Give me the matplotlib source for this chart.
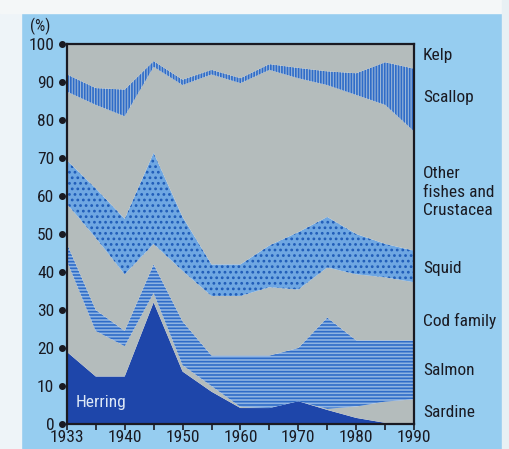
import numpy as np
import matplotlib
matplotlib.use("Agg")
import matplotlib.pyplot as plt
from matplotlib import font_manager
from matplotlib.patches import Rectangle
import matplotlib.transforms as mtransforms

years = [1933, 1935, 1940, 1945, 1950, 1955, 1960, 1965, 1970, 1975, 1980, 1985, 1990]
year_labels = ['1933', '', '1940', '', '1950', '', '1960', '', '1970', '', '1980', '', '1990']

# shares of catch (%), bottom to top
herring = [19.0, 12.5, 12.5, 32.0, 13.8, 8.5, 4.2, 4.2, 6.0, 3.7, 1.6, 0.3, 0.0]
sardine = [24.0, 12.0, 8.0, 2.5, 1.7, 1.5, 0.3, 0.0, 0.0, 0.3, 3.0, 5.6, 6.5]
salmon = [4.5, 5.5, 4.0, 7.5, 11.5, 8.0, 13.5, 13.8, 14.0, 24.0, 17.4, 16.1, 15.5]
cod = [10.5, 19.0, 14.9, 5.4, 13.3, 15.7, 15.7, 18.0, 15.4, 13.2, 17.4, 16.6, 15.3]
squid = [11.4, 13.0, 14.6, 24.0, 14.2, 8.3, 8.3, 11.0, 15.1, 13.3, 10.6, 8.8, 8.3]
other = [18.1, 22.0, 27.0, 22.6, 34.7, 50.0, 47.7, 46.2, 40.5, 34.7, 36.6, 36.6, 31.4]
scallop = [4.5, 4.4, 7.0, 1.5, 1.4, 1.2, 1.3, 1.5, 2.7, 3.6, 5.7, 11.2, 16.5]
kelp = [8.0, 11.6, 12.0, 4.5, 9.4, 6.8, 9.0, 5.3, 6.3, 7.2, 7.7, 4.8, 6.5]

names = ['Sardine', 'Salmon', 'Cod family', 'Squid',
         'Other\nfishes and\nCrustacea', 'Scallop', 'Kelp']
name_y = [3, 14, 27, 41, 61, 86, 97]

bg = '#96cdf0'
grey = '#b4bcbc'
dark = '#1e46aa'
mid = '#2f6cc8'
ink = '#1a1a22'

# pick a narrow font if one is around, else squeeze DejaVu a bit
avail = {f.name for f in font_manager.fontManager.ttflist}
narrow = None
for cand in ['Liberation Sans Narrow', 'Roboto Condensed', 'Open Sans Condensed',
             'Noto Sans Condensed', 'DejaVu Sans Condensed']:
    if cand in avail:
        narrow = cand
        break
if narrow:
    plt.rcParams['font.family'] = [narrow, 'DejaVu Sans']
    fs = 12.5
else:
    plt.rcParams['font.family'] = ['DejaVu Sans']
    plt.rcParams['font.stretch'] = 'condensed'
    fs = 10.5
plt.rcParams['hatch.linewidth'] = 1.2

fig = plt.figure(figsize=(5.10, 4.49), dpi=100, facecolor=bg)
fig.patches.append(Rectangle((0, 0), 0.042, 1, transform=fig.transFigure,
                             color='#eef4f8', zorder=0))
fig.patches.append(Rectangle((0, 0.972), 1, 0.03, transform=fig.transFigure,
                             color='#f4f7f8', zorder=0))
fig.patches.append(Rectangle((0.984, 0), 0.02, 1, transform=fig.transFigure,
                             color='#e8f0f4', zorder=0))

ax = fig.add_axes([0.131, 0.0557, 0.681, 0.8463])
x = np.arange(len(years))

polys = ax.stackplot(x, herring, sardine, salmon, cod, squid, other, scallop, kelp,
                     colors=[dark, grey, '#8fb4e2', grey, '#6fa7e2', grey, '#9ab6d8', grey],
                     linewidth=0)
polys[2].set_hatch('-----')
polys[2].set_edgecolor(mid)
polys[4].set_hatch('...')
polys[4].set_edgecolor('#1f5cb8')
polys[6].set_hatch('||||||')
polys[6].set_edgecolor(mid)

ax.set_xlim(0, len(years) - 1)
ax.set_ylim(0, 100)
for s in ax.spines.values():
    s.set_linewidth(1.6)
    s.set_color(ink)

ax.set_xticks(x)
ax.set_xticklabels(year_labels, fontsize=fs, color=ink)
ax.tick_params(axis='x', length=4, width=1.2, direction='out', pad=0, color=ink)

ax.set_yticks(np.arange(0, 101, 10))
ax.set_yticklabels([str(v) for v in range(0, 101, 10)], fontsize=fs, color=ink)
ax.tick_params(axis='y', length=0, pad=9)
trans = mtransforms.blended_transform_factory(ax.transAxes, ax.transData)
ax.scatter(np.full(11, -0.015), np.arange(0, 101, 10), s=16, color=ink,
           transform=trans, clip_on=False, zorder=5)

ax.text(-0.105, 102.5, '(%)', transform=trans, fontsize=fs - 1, color=ink,
        va='bottom', ha='left')
ax.text(0.3, 4.5, 'Herring', fontsize=fs, color='#dde8f6')

for n, yy in zip(names, name_y):
    ax.text(1.025, yy, n, transform=trans, fontsize=fs, color=ink,
            va='center', ha='left', linespacing=1.3)

fig.savefig('out.png', dpi=100, facecolor=bg)
